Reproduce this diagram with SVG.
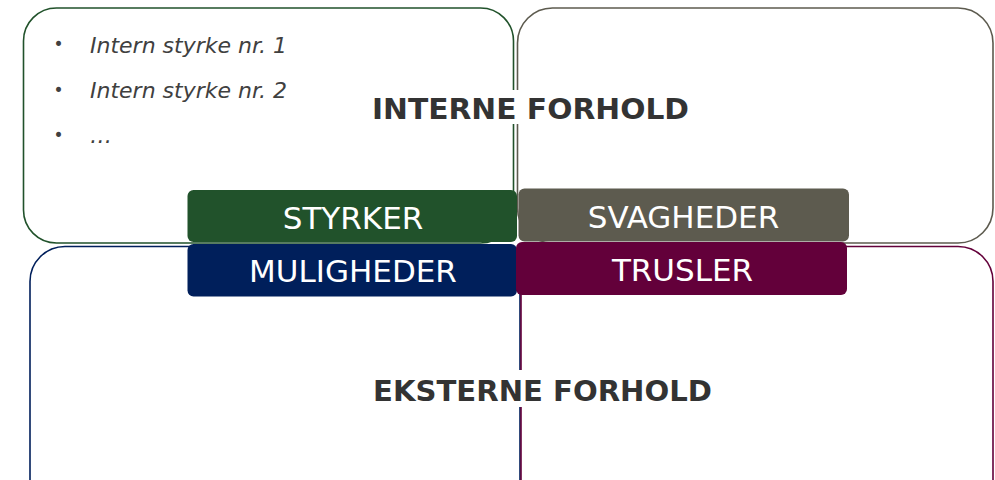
<svg xmlns="http://www.w3.org/2000/svg" width="995" height="480" viewBox="0 0 995 480">
<style>
.box{fill:#fff;stroke-width:1.6}
.lbl{font-family:"DejaVu Sans",Verdana,sans-serif;font-size:31px;fill:#fff;text-anchor:middle}
.title{font-family:"DejaVu Sans",Verdana,sans-serif;font-weight:bold;font-size:29px;fill:#333;text-anchor:middle}
.item{font-family:"DejaVu Sans",Verdana,sans-serif;font-style:italic;font-size:22px;fill:#404040}
.bul{font-family:"DejaVu Sans",Verdana,sans-serif;font-size:17px;fill:#404040}
</style>
<rect width="995" height="480" fill="#fff"/>
<g id="box-styrker">
<rect class="box" x="23.5" y="8" width="490" height="235" rx="33" stroke="#21522b"/>
</g>
<g id="box-svagheder">
<rect class="box" x="517.5" y="8" width="475.5" height="235" rx="35" stroke="#5d5b4f"/>
</g>
<g id="box-muligheder">
<rect class="box" x="30" y="246.5" width="490" height="270" rx="35" stroke="#001f5b"/>
</g>
<g id="box-trusler">
<rect class="box" x="521" y="246.5" width="472" height="270" rx="35" stroke="#63003a"/>
</g>
<g id="list">
<text class="bul" x="53.5" y="50">•</text>
<text class="item" x="90" y="53">Intern styrke nr. 1</text>
<text class="bul" x="53.5" y="96">•</text>
<text class="item" x="90" y="98">Intern styrke nr. 2</text>
<text class="bul" x="53.5" y="141">•</text>
<text class="item" x="90" y="143">…</text>
</g>
<g id="title-interne">
<rect x="370" y="90" width="322" height="34" fill="#fff"/>
<text class="title" x="530.5" y="119" textLength="317" lengthAdjust="spacingAndGlyphs">INTERNE FORHOLD</text>
</g>
<g id="title-eksterne">
<rect x="371" y="370" width="343" height="37" fill="#fff"/>
<text class="title" x="542.5" y="401" textLength="339" lengthAdjust="spacingAndGlyphs">EKSTERNE FORHOLD</text>
</g>
<g id="lbl-styrker">
<rect x="187.5" y="190" width="329.5" height="52" rx="6" fill="#21522b"/>
<text class="lbl" x="353" y="229">STYRKER</text>
</g>
<g id="lbl-svagheder">
<rect x="518.5" y="188.5" width="330.5" height="53" rx="6" fill="#5d5b4f"/>
<text class="lbl" x="683.5" y="228">SVAGHEDER</text>
</g>
<g id="lbl-muligheder">
<rect x="187.5" y="244" width="329.5" height="52.5" rx="6" fill="#001f5b"/>
<text class="lbl" x="353" y="282">MULIGHEDER</text>
</g>
<g id="lbl-trusler">
<rect x="516" y="242" width="331" height="53" rx="6" fill="#63003a"/>
<text class="lbl" x="682.5" y="281">TRUSLER</text>
</g>
<g id="connectors"></g>
</svg>
